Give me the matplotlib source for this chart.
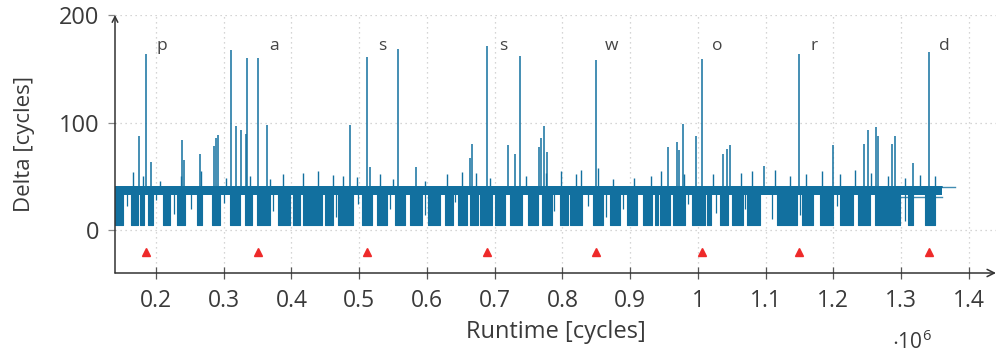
import matplotlib
matplotlib.use("Agg")
import matplotlib.pyplot as plt
import numpy as np

plt.rcParams['font.family'] = ['Open Sans', 'DejaVu Sans']
plt.rcParams['mathtext.fontset'] = 'custom'
plt.rcParams['mathtext.rm'] = 'Open Sans'

# ---- data (runtime in 1e6 cycles, delta in cycles) ----
data_start = 0.139
data_end = 1.360
baseline = 40
band_low = 33
band_high = 41
burst_low = 5

burst_start = [0.139, 0.163, 0.176, 0.188, 0.210, 0.231, 0.261, 0.283,
               0.309, 0.331, 0.349, 0.380, 0.402, 0.417, 0.449, 0.469,
               0.504, 0.526, 0.553, 0.575, 0.601, 0.627,
               0.646, 0.663, 0.678, 0.700, 0.723, 0.749, 0.770, 0.796,
               0.811, 0.845, 0.870, 0.895, 0.919, 0.937, 0.944, 0.963,
               0.991, 1.013, 1.032, 1.050, 1.072, 1.117, 1.154, 1.180,
               1.210, 1.236, 1.261, 1.310, 1.335]
burst_end = [0.151, 0.173, 0.182, 0.196, 0.221, 0.243, 0.268, 0.294,
             0.324, 0.342, 0.368, 0.398, 0.413, 0.445, 0.461, 0.491,
             0.519, 0.541, 0.568, 0.593, 0.619, 0.638,
             0.659, 0.675, 0.696, 0.715, 0.740, 0.764, 0.784, 0.808,
             0.829, 0.860, 0.885, 0.910, 0.932, 0.941, 0.959, 0.981,
             1.010, 1.020, 1.044, 1.066, 1.092, 1.146, 1.170, 1.199,
             1.229, 1.254, 1.298, 1.317, 1.350]

spike_x = [0.175, 0.185, 0.193, 0.238, 0.241, 0.265, 0.286, 0.289, 0.292,
           0.311, 0.318, 0.325, 0.333, 0.334, 0.351, 0.364, 0.486, 0.511,
           0.516, 0.557, 0.584, 0.663, 0.666, 0.689, 0.720, 0.730, 0.737,
           0.765, 0.768, 0.773, 0.777, 0.849, 0.956, 0.969, 0.972, 0.978,
           0.997, 1.006, 1.037, 1.043, 1.047, 1.097, 1.149, 1.199, 1.245,
           1.251, 1.263, 1.266, 1.286, 1.291, 1.317, 1.341]
spike_y = [87, 164, 63, 84, 65, 71, 78, 86, 88,
           167, 97, 93, 89, 160, 160, 98, 98, 161,
           59, 168, 59, 67, 80, 171, 79, 71, 162,
           77, 86, 97, 73, 158, 77, 82, 74, 99,
           87, 159, 71, 75, 79, 60, 164, 79, 80,
           93, 96, 87, 80, 87, 62, 166]

minor_x = [0.166, 0.181, 0.206, 0.237, 0.266, 0.303, 0.339, 0.368, 0.387,
           0.417, 0.439, 0.461, 0.476, 0.497, 0.531, 0.550, 0.597, 0.630,
           0.652, 0.672, 0.693, 0.746, 0.776, 0.798, 0.820, 0.828, 0.853,
           0.875, 0.905, 0.930, 0.945, 0.979, 1.022, 1.063, 1.080, 1.114,
           1.136, 1.160, 1.183, 1.210, 1.232, 1.256, 1.281, 1.306, 1.328,
           1.350]
minor_y = [54, 50, 46, 50, 55, 48, 50, 47, 52,
           53, 55, 51, 50, 49, 52, 47, 46, 52,
           54, 53, 48, 50, 53, 55, 52, 56, 58,
           47, 48, 50, 55, 52, 52, 53, 55, 56,
           50, 52, 55, 52, 56, 53, 50, 48, 51,
           50]

dip_x = [0.157, 0.200, 0.226, 0.252, 0.300, 0.373, 0.465, 0.498, 0.546,
         0.597, 0.642, 0.787, 0.838, 0.865, 0.890, 0.986, 1.026, 1.070,
         1.110, 1.150, 1.205, 1.305]
dip_y = [22, 28, 15, 20, 25, 18, 12, 24, 20,
         14, 26, 18, 22, 12, 20, 24, 16, 20,
         10, 14, 22, 8]

tail_upper_x = [1.360, 1.379]
tail_upper_y = [40, 40]
tail_lower_x = [1.298, 1.360]
tail_lower_y = [31, 31]

marker_x = [0.185, 0.351, 0.511, 0.689, 0.849, 1.006, 1.149, 1.341]
marker_y = -20
letters = ['p', 'a', 's', 's', 'w', 'o', 'r', 'd']
letter_y = 171
letter_dx = 0.023

xticks = [0.2, 0.3, 0.4, 0.5, 0.6, 0.7, 0.8, 0.9, 1.0, 1.1, 1.2, 1.3, 1.4]
xticklabels = ['0.2', '0.3', '0.4', '0.5', '0.6', '0.7', '0.8', '0.9', '1',
               '1.1', '1.2', '1.3', '1.4']
yticks = [0, 100, 200]

# ---- figure ----
W, H = 1001, 354
fig = plt.figure(figsize=(W / 100, H / 100), dpi=100)
ax = fig.add_axes([115 / W, (H - 273) / H, (996 - 115) / W, (273 - 15) / H])
ax.set_xlim(0.1395, 1.440)
ax.set_ylim(-40, 200)

blue = '#12709f'
text_c = '#3a3a3a'

# baseline band
ax.fill_between([data_start, data_end], [band_low, band_low],
                [band_high, band_high], color=blue, lw=0)
ax.plot([data_start, data_end], [baseline, baseline], color=blue, lw=1.2)
# dense bursts
for s, e in zip(burst_start, burst_end):
    ax.fill_between([s, e], [burst_low, burst_low], [baseline, baseline],
                    color=blue, lw=0.8, edgecolor=blue)
# spikes and dips
ax.vlines(spike_x, baseline, spike_y, color=blue, lw=1.1)
ax.vlines(minor_x, baseline, minor_y, color=blue, lw=1.0)
ax.vlines(dip_x, dip_y, baseline, color=blue, lw=0.9)
ax.plot(tail_upper_x, tail_upper_y, color=blue, lw=1.0, alpha=0.8)
ax.plot(tail_lower_x, tail_lower_y, color=blue, lw=1.0, alpha=0.8)

# markers and letters
ax.plot(marker_x, [marker_y] * len(marker_x), linestyle='none', marker='^',
        color='#ee2a2a', markersize=6)
for x, ch in zip(marker_x, letters):
    ax.text(x + letter_dx, letter_y, ch, ha='center', va='center',
            fontsize=12.5, color='#444444')

# axes styling
for sp in ['top', 'right', 'left', 'bottom']:
    ax.spines[sp].set_visible(False)
ax.annotate('', xy=(1.0, 0), xytext=(0, 0), xycoords='axes fraction',
            arrowprops=dict(arrowstyle='->', color='#333333', lw=1.1,
                            mutation_scale=13, shrinkA=0, shrinkB=0))
ax.annotate('', xy=(0, 1.0), xytext=(0, 0), xycoords='axes fraction',
            arrowprops=dict(arrowstyle='->', color='#333333', lw=1.1,
                            mutation_scale=10, shrinkA=0, shrinkB=0))

ax.set_xticks(xticks)
ax.set_xticklabels(xticklabels)
ax.set_yticks(yticks)
ax.tick_params(axis='x', direction='inout', length=9, width=0.9,
               color='#555555', labelsize=16.5, labelcolor=text_c, pad=7)
ax.tick_params(axis='y', direction='out', length=5, width=0.9,
               color='#888888', labelsize=17, labelcolor=text_c, pad=6)
ax.grid(True, color='#c8c8c8', linestyle=(0, (1, 3)), lw=0.9)
ax.set_axisbelow(True)

ax.set_xlabel('Runtime [cycles]', fontsize=17, color=text_c, labelpad=5)
ax.set_ylabel('Delta [cycles]', fontsize=16, color=text_c, labelpad=17)

fig.text(912 / W, 1 - 342 / H, r'$\mathregular{\cdot 10^6}$', fontsize=15,
         color=text_c, ha='center', va='center')

fig.savefig('out.png', dpi=100)
